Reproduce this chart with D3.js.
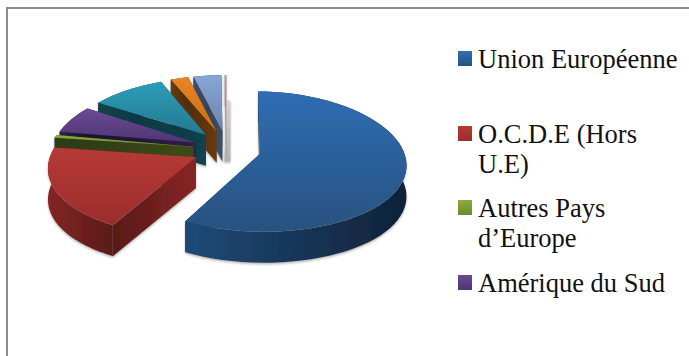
<!DOCTYPE html>
<html>
<head>
<meta charset="utf-8">
<script src="https://cdn.jsdelivr.net/npm/d3@7"></script>
<style>
  html, body { margin: 0; padding: 0; background: #fff; }
  svg { display: block; }
  text { font-family: "Liberation Serif", serif; fill: #111; }
</style>
</head>
<body>
<svg id="chart" width="689" height="356"></svg>
<script>
// Share of each destination, clockwise from twelve o'clock (percent).
const sliceValues = [57.8, 19.4, 0.7, 6.5, 9.5, 2.3, 3.6, 0.2];
const sliceTop = ["#2f6db3", "#b63a36", "#8cab3c", "#6a4a96", "#2c9db8", "#ec8424", "#86a6d6", "#d98a8a"];
const sliceBottom = ["#28527f", "#9c2c2c", "#6f8a30", "#4f3672", "#257a90", "#c76d1c", "#6d84ac", "#c06a6a"];
const wallLeft = ["#1f4a78", "#852525", "#3e4a1a", "#2e2048", "#12434f", "#6a3b10", "#3f5068", "#8a8a8a"];
const wallRight = ["#0f2238", "#591a18", "#2c3a12", "#1c1230", "#0e333e", "#4f2c0c", "#2a3648", "#b4b4b4"];

const legendEntries = [
  { lines: ["Union Européenne"], color: 0 },
  { lines: ["O.C.D.E (Hors", "U.E)"], color: 1 },
  { lines: ["Autres Pays", "d’Europe"], color: 2 },
  { lines: ["Amérique du Sud"], color: 3 }
];

const svg = d3.select("#chart");
const defs = svg.append("defs");

// Outer frame of the chart area; its right and bottom sides run off the page
svg.append("rect")
  .attr("x", 7).attr("y", 8)
  .attr("width", 700).attr("height", 360)
  .attr("fill", "#fff").attr("stroke", "#8c8c8c").attr("stroke-width", 2);

// Perspective view of the disc: centre, radii, foreshortening, explosion, thickness
const cx = 226.5, cy = 150, rx = 144, ry = 68.5;
const perspX = 0.13, perspY = 0.105, explode = 0.235, apexLift = 1.25, depth = 31;
const project = (u, v) => [
  cx + rx * u / (1 + perspX * v),
  cy - ry * v / (1 + perspY * v)
];

const arcs = d3.pie().sort(null).value(d => d)
  .startAngle(0.02).endAngle(2 * Math.PI)(sliceValues);

const slices = arcs.map((a, i) => {
  const mid = (a.startAngle + a.endAngle) / 2;
  const ou = explode * Math.sin(mid), ov = explode * Math.cos(mid);
  const steps = d3.range(0, 61).map(t => a.startAngle + (a.endAngle - a.startAngle) * t / 60);
  const rim = steps.map(t => project(ou + Math.sin(t), ov + Math.cos(t)));
  // Apexes of the far slices sit a little higher than the plain offset gives
  const apex = project(ou, ov > 0 ? ov * apexLift : ov);
  return { i, rim, apex };
});

const line = d3.line();
const lowered = p => [p[0], p[1] + depth];

function gradient(id, c1, c2, horizontal) {
  const g = defs.append("linearGradient").attr("id", id)
    .attr("x1", 0).attr("y1", 0)
    .attr("x2", horizontal ? 1 : 0).attr("y2", horizontal ? 0 : 1);
  g.append("stop").attr("offset", 0).attr("stop-color", c1);
  g.append("stop").attr("offset", 1).attr("stop-color", c2);
}
sliceValues.forEach((_, i) => {
  gradient("top" + i, sliceTop[i], sliceBottom[i], false);
  gradient("wall" + i, wallLeft[i], wallRight[i], true);
  gradient("radial" + i, wallRight[i], wallLeft[i], true);
});
gradient("sliver", "#d4d4d4", "#b0b0b0", false);

// Soft shadow cast by the solid slices
const soft = defs.append("filter").attr("id", "soft")
  .attr("x", "-10%").attr("y", "-10%").attr("width", "120%").attr("height", "120%");
soft.append("feDropShadow")
  .attr("dx", 0).attr("dy", 1.5).attr("stdDeviation", 1.2)
  .attr("flood-color", "#777").attr("flood-opacity", 0.55);

// Painter's order: the far narrow slices first, the large front slice last
const order = [7, 6, 5, 4, 3, 2, 1, 0];
const plot = svg.append("g").attr("filter", "url(#soft)");
order.forEach(i => {
  const s = slices[i];
  const g = plot.append("g");
  const first = s.rim[0], last = s.rim[s.rim.length - 1];
  // The hair-thin last slice shows mostly as a pale grey wall behind it
  if (i === order[0]) {
    const upper = d3.interpolate(first, s.apex)(0.46);
    const base = lowered(s.apex);
    g.append("path")
      .attr("d", line([[upper[0] + 1, upper[1]], [upper[0] + 5, upper[1]], [base[0] + 4, base[1]], [base[0] - 2, base[1]]]) + "Z")
      .attr("fill", "url(#sliver)");
  }
  // Radial walls from the apex out to each end of the rim
  [first, last].forEach(p => {
    g.append("path")
      .attr("d", line([s.apex, p, lowered(p), lowered(s.apex)]) + "Z")
      .attr("fill", `url(#radial${i})`);
  });
  // Curved outer wall
  g.append("path")
    .attr("d", line(s.rim.concat(s.rim.map(lowered).reverse())) + "Z")
    .attr("fill", `url(#wall${i})`);
  // Top face
  g.append("path")
    .attr("d", line([s.apex].concat(s.rim)) + "Z")
    .attr("fill", `url(#top${i})`);
});

// Legend
const legendX = 458, textX = 478, lineGap = 30;
const legendBaselines = [68, 143, 217, 292];
const legend = svg.append("g");
legendEntries.forEach((e, n) => {
  const base = legendBaselines[n];
  legend.append("rect")
    .attr("x", legendX).attr("y", base - 17)
    .attr("width", 14).attr("height", 15)
    .attr("fill", `url(#top${e.color})`);
  e.lines.forEach((t, k) => {
    legend.append("text")
      .attr("x", textX).attr("y", base + k * lineGap)
      .attr("font-size", 26.5)
      .text(t);
  });
});
</script>
</body>
</html>
